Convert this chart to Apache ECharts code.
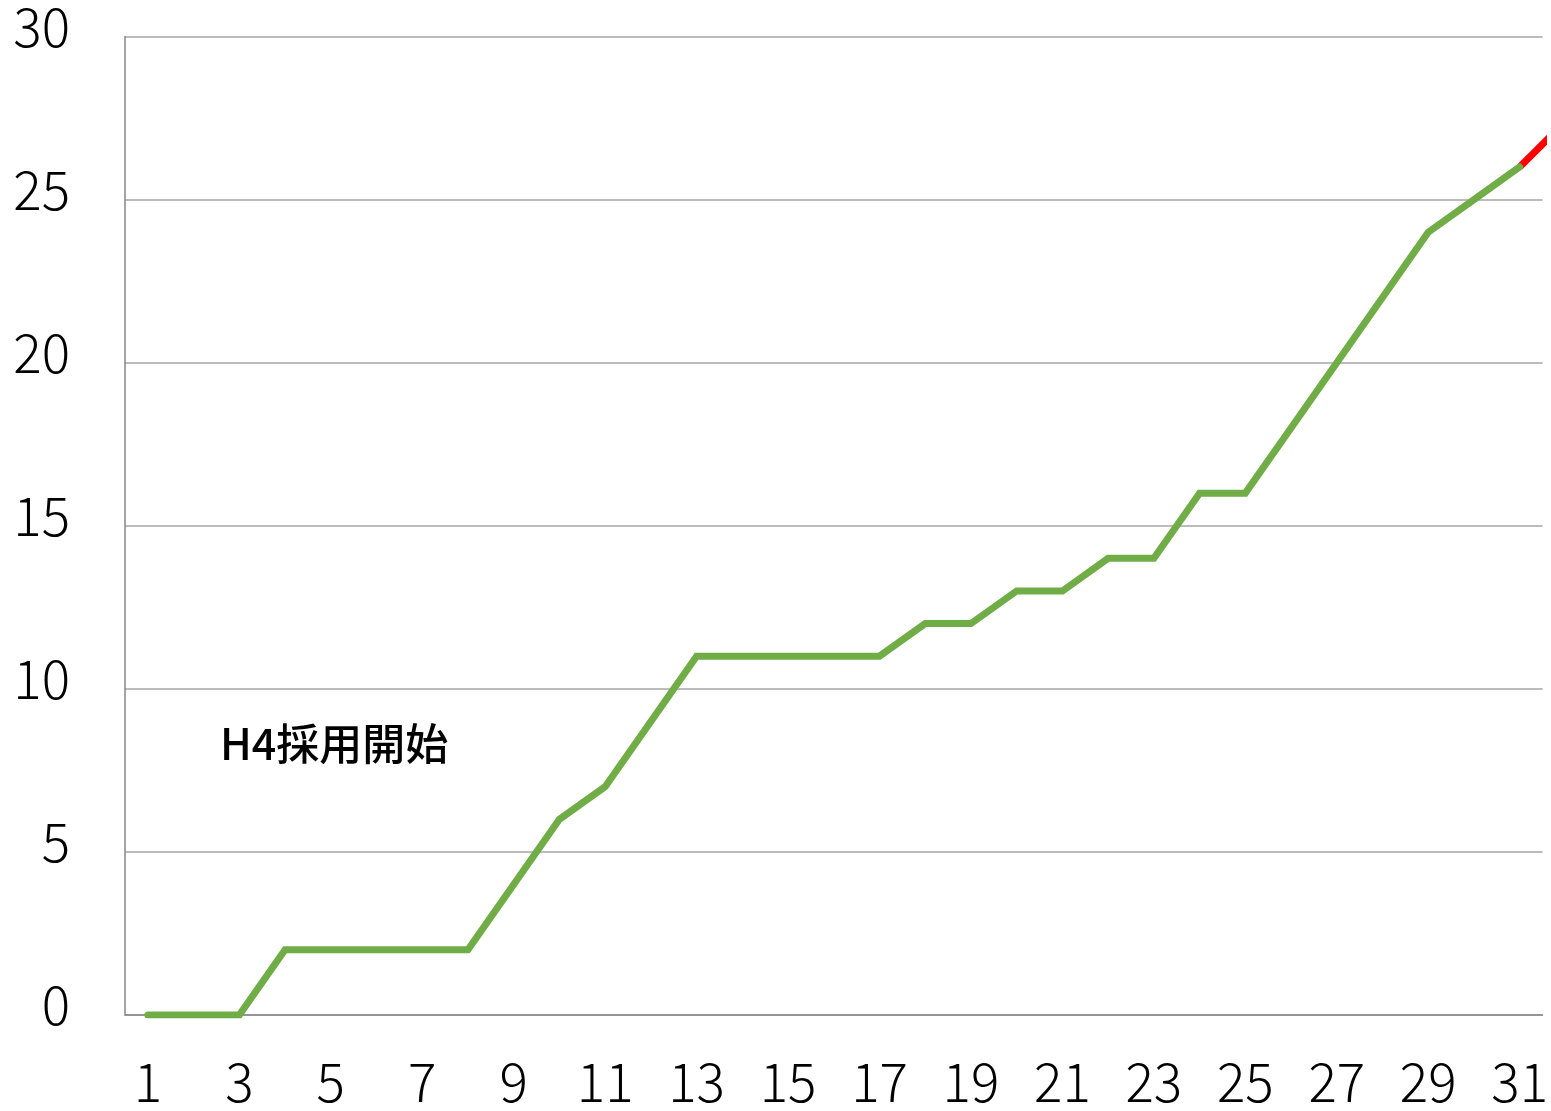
<!DOCTYPE html>
<html><head><meta charset="utf-8">
<script src="https://cdn.jsdelivr.net/npm/echarts@6/dist/echarts.min.js"></script>
<style>html,body{margin:0;padding:0;background:#fff}#c{width:1551px;height:1111px}</style>
</head><body><div id="c"></div>
<script>
const categories = ['1','2','3','4','5','6','7','8','9','10','11','12','13','14','15','16','17','18','19','20','21','22','23','24','25','26','27','28','29','30','31'];
const values = [0,0,0,2,2,2,2,2,4,6,7,9,11,11,11,11,11,12,12,13,13,14,14,16,16,18,20,22,24,25,26];
const trendPoints = [[31,26],[32,27.4]];
const annotation = 'H4採用開始';
const yTicks = {min:0, max:30, interval:5};

const font = '"Noto Sans CJK JP", "Noto Sans", sans-serif';
const chart = echarts.init(document.getElementById('c'));
chart.setOption({
  animation:false,
  grid:{left:125, right:6, top:35, bottom:96, containLabel:false},
  xAxis:[{
    type:'category', data:categories, boundaryGap:true,
    axisLine:{lineStyle:{color:'#868686', width:1.5}},
    axisTick:{show:false},
    axisLabel:{interval:1, fontSize:53, fontWeight:300, color:'#000', fontFamily:font, margin:40}
  },{
    type:'value', min:0.5, max:31.5, show:false
  }],
  yAxis:{
    type:'value', min:yTicks.min, max:yTicks.max, interval:yTicks.interval,
    axisLine:{show:true, lineStyle:{color:'#868686', width:1.5}},
    axisTick:{show:false},
    splitLine:{lineStyle:{color:'#A6A6A6', width:1.5}},
    axisLabel:{fontSize:53, fontWeight:300, color:'#000', fontFamily:font, margin:55, verticalAlign:'bottom', lineHeight:20}
  },
  series:[{
    type:'line', xAxisIndex:1, data:trendPoints, clip:false, symbol:'none',
    lineStyle:{color:'#FF0000', width:7, cap:'butt'}, z:1
  },{
    type:'line', data:values, symbol:'none',
    lineStyle:{color:'#70AD47', width:7, cap:'round', join:'miter'}, z:3
  }],
  graphic:[{
    type:'text', left:220, top:722,
    style:{text:annotation, fontSize:43, fontWeight:500, fill:'#000', fontFamily:font}
  }]
});
</script></body></html>
